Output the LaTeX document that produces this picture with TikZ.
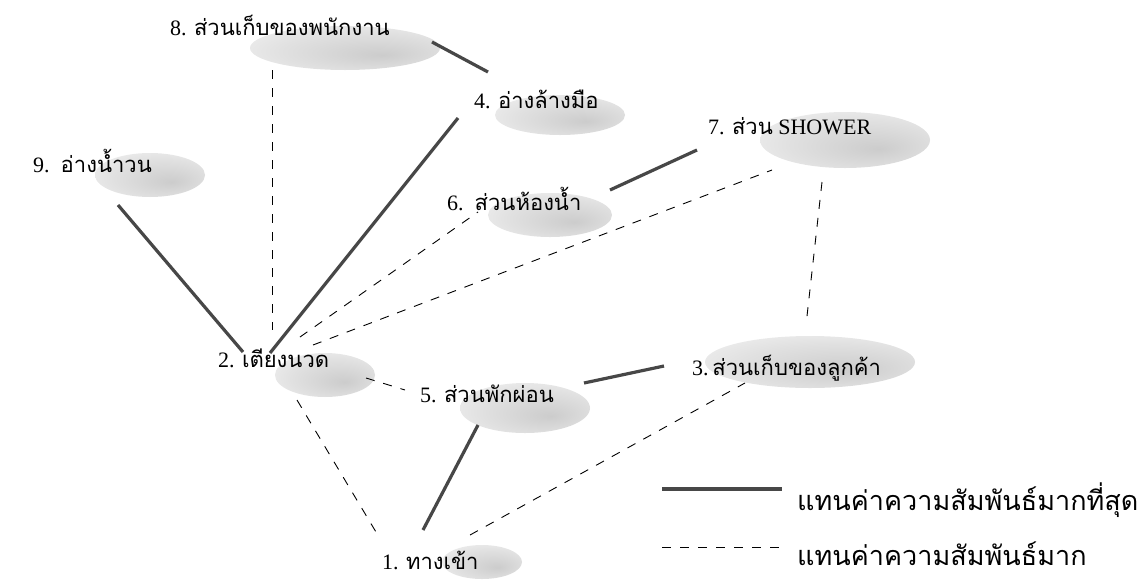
\documentclass[tikz,border=0pt]{standalone}
\usepackage{fontspec}
\setmainfont{Liberation Serif}
\newfontfamily\thai[Script=Thai]{Loma}
\usetikzlibrary{calc}
\pgfdeclareradialshading{blobshade}{\pgfpoint{10bp}{-8bp}}{color(0bp)=(gray!40); color(22bp)=(gray!24); color(40bp)=(gray!9); color(50bp)=(white)}
\tikzset{
  strong/.style={line width=3.2pt, draw=black!72},
  weak/.style={line width=0.9pt, draw=black, dash pattern=on 9pt off 9pt},
  lbl/.style={anchor=base west, inner sep=0pt, font=\fontsize{22}{26}\selectfont},
  leg/.style={anchor=base west, inner sep=0pt, font=\fontsize{27}{32}\selectfont\thai},
  blob/.style={shading=blobshade}
}
\begin{document}
\begin{tikzpicture}[x=1pt,y=-1pt]
\useasboundingbox (0,0) rectangle (1147,579);
% blobs
\path[blob] (345,48) ellipse (95 and 22);
\path[blob] (560,115) ellipse (65 and 20);
\path[blob] (845,140) ellipse (85 and 28);
\path[blob] (150,175) ellipse (55 and 22);
\path[blob] (550,215) ellipse (62 and 22);
\path[blob] (325,375) ellipse (50 and 22);
\path[blob] (810,362) ellipse (105 and 26);
\path[blob] (525,408) ellipse (65 and 25);
\path[blob] (482,562) ellipse (40 and 17);
% labels
\node[lbl] (n8) at (170,35) {8. {\thai ส่วนเก็บของพนักงาน}};
\node[lbl] (n4) at (474,108) {4. {\thai อ่างล้างมือ}};
\node[lbl] (n7) at (708,134) {7. {\thai ส่วน} SHOWER};
\node[lbl] (n9) at (33,172) {9.\enspace{\thai อ่างน้ำวน}};
\node[lbl] (n6) at (447,210) {6.\enspace{\thai ส่วนห้องน้ำ}};
\node[lbl] (n2) at (218,367) {2. {\thai เตียงนวด}};
\node[lbl] (n3) at (692,375) {3.\,{\thai ส่วนเก็บของลูกค้า}};
\node[lbl] (n5) at (420,402) {5. {\thai ส่วนพักผ่อน}};
\node[lbl] (n1) at (382,569) {1. {\thai ทางเข้า}};
% strongest relations
\draw[strong] ([shift={(262,7)}]n8.base west) -- ([shift={(14,-36)}]n4.base west);
\draw[strong] ([shift={(52,-14)}]n2.base west) -- ([shift={(-16,10)}]n4.base west);
\draw[strong] ([shift={(85,33)}]n9.base west) -- ([shift={(25,-15)}]n2.base west);
\draw[strong] ([shift={(163,-20)}]n6.base west) -- ([shift={(-11,16)}]n7.base west);
\draw[strong] ([shift={(164,-19)}]n5.base west) -- ([shift={(-28,-9)}]n3.base west);
\draw[strong] ([shift={(58,23)}]n5.base west) -- ([shift={(41,-39)}]n1.base west);
% strong relations
\draw[weak] ([shift={(102,35)}]n8.base west) -- ([shift={(54,-37)}]n2.base west);
\draw[weak] ([shift={(82,-30)}]n2.base west) -- ([shift={(31,2)}]n6.base west);
\draw[weak] ([shift={(95,-22)}]n2.base west) -- ([shift={(64,36)}]n7.base west);
\draw[weak] ([shift={(114,48)}]n7.base west) -- ([shift={(114,-50)}]n3.base west);
\draw[weak] ([shift={(148,11)}]n2.base west) -- ([shift={(-15,-12)}]n5.base west);
\draw[weak] ([shift={(79,33)}]n2.base west) -- ([shift={(-6,-37)}]n1.base west);
\draw[weak] ([shift={(88,-34)}]n1.base west) -- ([shift={(53,8)}]n3.base west);
% legend
\coordinate (ls1) at (662,489);
\coordinate (le1) at (782,489);
\coordinate (ls2) at (662,547);
\coordinate (le2) at (785,547);
\draw[strong] (ls1) -- (le1);
\draw[weak] (ls2) -- (le2);
\node[leg] (t1) at (797,510) {แทนค่าความสัมพันธ์มากที่สุด};
\node[leg] (t2) at (797,565) {แทนค่าความสัมพันธ์มาก};
\end{tikzpicture}
\end{document}
